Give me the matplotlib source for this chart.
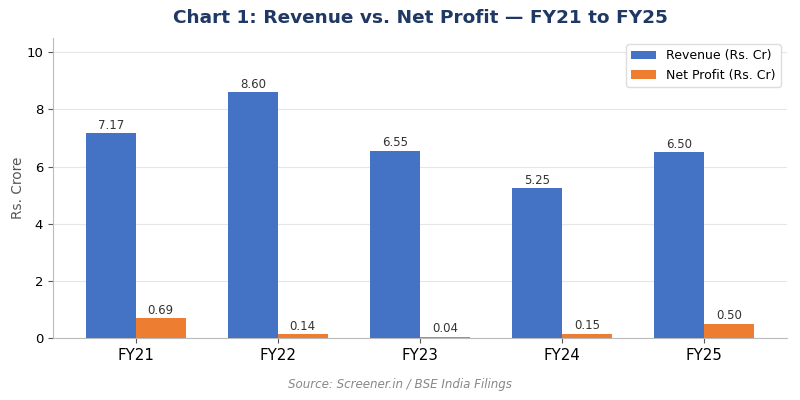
import matplotlib
matplotlib.use("Agg")
import matplotlib.pyplot as plt
import numpy as np

years = ["FY21", "FY22", "FY23", "FY24", "FY25"]
revenue = [7.17, 8.60, 6.55, 5.25, 6.50]
net_profit = [0.69, 0.14, 0.04, 0.15, 0.50]

fig, ax = plt.subplots(figsize=(8, 4), dpi=100)
fig.subplots_adjust(left=0.066, right=0.984, top=0.905, bottom=0.155)

x = np.arange(len(years))
w = 0.35
b1 = ax.bar(x - w/2, revenue, w, color="#4472C4", label="Revenue (Rs. Cr)", zorder=3)
b2 = ax.bar(x + w/2, net_profit, w, color="#ED7D31", label="Net Profit (Rs. Cr)", zorder=3)

for bars, vals in ((b1, revenue), (b2, net_profit)):
    for r, v in zip(bars, vals):
        ax.annotate(f"{v:.2f}", (r.get_x() + r.get_width()/2, v), xytext=(0, 1),
                    textcoords="offset points", ha="center", va="bottom",
                    fontsize=8.5, color="#333333")

ax.set_xticks(x)
ax.set_xticklabels(years, fontsize=10.8)
ax.tick_params(axis="y", labelsize=9.5)
ax.tick_params(axis="both", color="#555555")
ax.set_ylim(0, 10.5)
ax.set_yticks([0, 2, 4, 6, 8, 10])
ax.set_ylabel("Rs. Crore", fontsize=9.8, color="#555555")
ax.yaxis.set_label_coords(-0.038, 0.5)
ax.set_title("Chart 1: Revenue vs. Net Profit \u2014 FY21 to FY25", fontsize=13.3, fontweight="bold",
             color="#1F3864", pad=11)
ax.grid(axis="y", color="#e6e6e6", linewidth=0.8, zorder=0)
for s in ("top", "right"):
    ax.spines[s].set_visible(False)
for s in ("left", "bottom"):
    ax.spines[s].set_color("#bbbbbb")
ax.legend(loc="upper right", fontsize=9, framealpha=1, edgecolor="#dddddd")
fig.text(0.5, 0.03, "Source: Screener.in / BSE India Filings", ha="center", fontsize=8.6,
         style="italic", color="#888888")
fig.savefig("out.png", dpi=100)
